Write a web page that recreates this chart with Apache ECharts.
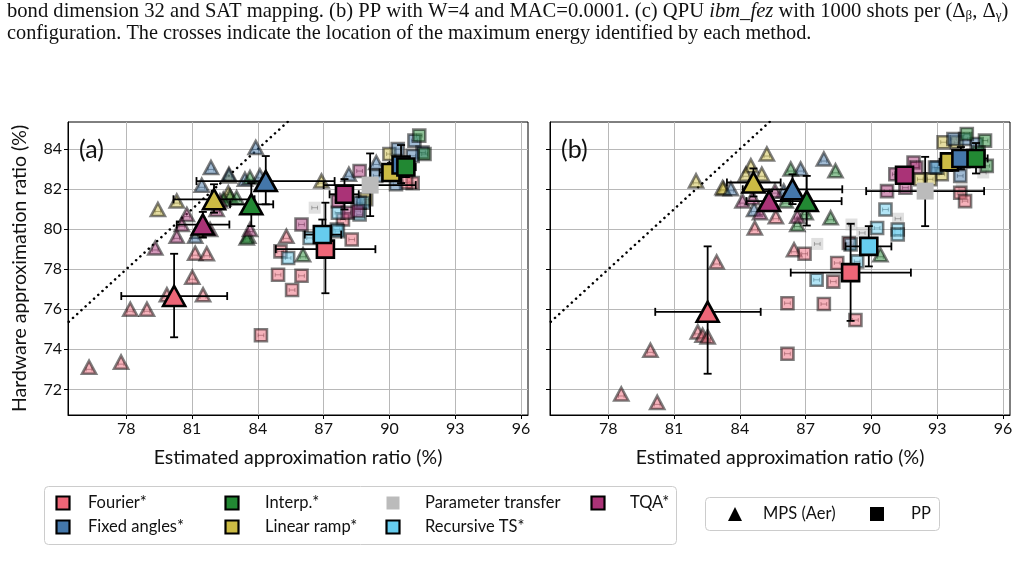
<!DOCTYPE html>
<html>
<head>
<meta charset="utf-8">
<script src="https://cdn.jsdelivr.net/npm/echarts@6/dist/echarts.min.js"></script>
<style>
  html, body { margin: 0; padding: 0; background: #fff; }
  #main { width: 1027px; height: 581px; }
</style>
</head>
<body>
<div id="main"></div>
<script>
// methods, in legend order
var methods = ['Fourier*', 'Fixed angles*', 'Interp.*', 'Linear ramp*', 'Parameter transfer', 'Recursive TS*', 'TQA*'];
var colors = ['#EE6677', '#4477AA', '#228833', '#CCBB44', '#BBBBBB', '#66CCEE', '#AA3377'];

var xTicks = [78, 81, 84, 87, 90, 93, 96];
var yTicks = [72, 74, 76, 78, 80, 82, 84];
var diagonal = [[70, 70], [86, 86]];
var smallErr = 0.13;   // half width of the tiny error bars inside the small markers

// small markers, panel (a) MPS (triangles), one list per method
var mpsA = [
  [[76.3,73.1],[77.76,73.36],[78.18,76.0],[78.94,76.0],[81.01,77.6],[81.5,76.72],[79.85,76.72],[81.14,78.8],[81.67,78.77],[85.3,79.64]],
  [[83.9,84.08],[81.86,83.08],[82.68,82.74],[83.41,82.49],[81.44,82.19],[81.14,79.64],[89.4,83.33],[88.15,82.74],[84.09,82.66]],
  [[82.73,81.65],[83.03,81.57],[82.42,81.49],[83.56,79.64],[83.64,82.58],[83.49,79.56],[86.06,78.72]],
  [[79.44,80.98],[80.3,81.4],[82.68,82.66],[86.9,82.4],[82.65,81.82],[81.27,79.9]],
  [],
  [],
  [[80.76,80.73],[80.53,80.23],[80.3,79.64],[79.32,79.06],[82.27,81.4],[81.82,79.98],[83.64,79.98],[82.12,80.98]]
];
// small markers, panel (a) PP (squares)
var ppA = [
  [[84.14,74.7],[84.92,77.72],[85.56,76.96],[85.99,77.67],[85.03,78.89],[88.28,79.48],[91.06,82.3],[90.76,82.33],[87.88,80.48]],
  [[91.14,84.42],[91.51,83.83],[91.06,83.66],[90.38,84.0],[89.4,82.66],[88.64,81.32],[90.3,82.24]],
  [[91.36,84.67],[91.6,83.75]],
  [[90.0,83.75],[88.94,81.49]],
  [[86.59,81.07]],
  [[85.38,78.56],[86.36,79.56],[87.6,79.98],[87.65,80.82],[88.64,80.73],[88.79,81.32],[87.65,79.9]],
  [[85.99,80.23],[88.64,82.9],[87.65,81.4],[88.1,80.82],[88.55,80.9]]
];
// small markers, panel (b) MPS
var mpsB = [
  [[78.59,71.77],[80.23,71.35],[79.92,73.95],[82.08,74.87],[82.3,74.7],[82.53,74.62],[82.94,78.36],[86.47,78.97],[84.68,80.06],[85.64,80.62]],
  [[87.83,83.5],[83.59,82.02],[86.77,83.0],[84.65,80.98],[86.0,81.9]],
  [[88.36,82.91],[86.32,83.0],[88.14,80.57],[86.62,80.23],[86.09,81.4],[90.41,78.72],[87.0,80.82]],
  [[85.23,83.75],[82.0,82.41],[83.26,82.02],[84.5,83.16],[84.27,82.74],[85.0,82.74],[83.21,82.07]],
  [],
  [],
  [[84.12,81.4],[84.92,80.82],[84.58,81.57],[86.62,80.65],[85.6,81.9]]
];
// small markers, panel (b) PP
var ppB = [
  [[86.17,73.78],[86.17,76.3],[87.83,76.26],[89.27,75.46],[88.26,77.38],[88.44,78.31],[88.97,79.31],[86.95,78.77],[94.05,81.82],[94.27,81.4]],
  [[93.74,84.5],[92.9,83.08],[94.05,82.66],[94.27,84.5],[94.8,84.25]],
  [[95.18,84.42],[95.26,83.16],[94.35,84.75],[94.88,83.83]],
  [[93.29,84.34],[93.21,82.74],[92.68,82.49],[93.9,84.34],[92.23,82.49]],
  [[87.53,79.26],[89.09,80.23],[91.21,80.52],[94.12,81.99],[95.1,82.83],[89.58,79.81]],
  [[90.64,80.98],[90.26,80.06],[91.2,79.98],[91.2,79.73],[87.5,77.47],[89.35,78.39],[89.05,79.23],[92.99,83.08]],
  [[90.71,81.9],[91.92,83.33],[91.55,82.07],[91.09,82.74],[92.05,83.08]]
];

// maxima with error bars: [x, y, xlo, xhi, ylo, yhi]
var bigMpsA = [
  [80.18,76.66,77.77,82.6,74.6,78.77],
  [84.36,82.4,81.2,87.5,81.24,83.65],
  [83.7,81.24,82.73,84.7,80.15,82.3],
  [82.0,81.49,80.15,83.85,80.82,82.24],
  null,
  null,
  [81.49,80.23,80.3,82.7,79.6,80.86]
];
var bigPpA = [
  [87.08,79.0,84.82,89.36,76.8,81.32],
  [90.53,83.2,90.0,91.1,82.3,84.2],
  [90.75,83.1,90.3,91.2,82.6,83.6],
  [90.07,82.83,89.55,90.6,82.4,83.3],
  [89.12,82.2,87.0,91.2,80.65,83.78],
  [86.94,79.73,86.14,87.8,78.98,80.48],
  [87.95,81.74,87.27,88.6,80.98,82.5]
];
var bigMpsB = [
  [82.53,75.87,80.14,84.95,72.78,79.14],
  [86.4,81.99,84.13,88.67,81.25,82.74],
  [87.05,81.4,85.45,88.64,80.18,82.66],
  [84.62,82.33,83.41,85.86,81.63,83.03],
  null,
  null,
  [85.33,81.4,84.3,86.3,80.9,81.9]
];
var bigPpB = [
  [89.05,77.83,86.32,91.8,75.42,80.27],
  [94.08,83.53,93.6,94.6,83.0,84.1],
  [94.77,83.53,94.3,95.3,82.78,84.3],
  [93.56,83.36,93.1,94.0,82.9,83.8],
  [92.45,81.9,89.76,95.14,80.15,83.61],
  [89.88,79.14,88.82,90.91,78.14,80.15],
  [91.51,82.69,91.1,91.9,82.3,83.1]
];

var drawOrder = [3, 4, 0, 5, 1, 2, 6];
var sansFont = 'Lato';

var myChart = echarts.init(document.getElementById('main'), null, {renderer: 'canvas'});

function xAxisCfg(gi) {
  return {
    gridIndex: gi, type: 'value', min: 75.34, max: 96.32,
    name: 'Estimated approximation ratio (%)', nameLocation: 'middle', nameGap: 33,
    nameTextStyle: {fontFamily: sansFont, fontSize: 19.5, color: '#111'},
    axisLine: {onZero: false, lineStyle: {color: '#000', width: 1}},
    axisTick: {show: true, customValues: xTicks, length: 4, lineStyle: {color: '#000'}},
    axisLabel: {customValues: xTicks, fontFamily: sansFont, fontSize: 16, color: '#111', margin: 6},
    splitLine: {show: true, lineStyle: {color: '#b8b8b8', width: 1}}
  };
}
function yAxisCfg(gi) {
  var cfg = {
    gridIndex: gi, type: 'value', min: 70.72, max: 85.35,
    axisLine: {onZero: false, lineStyle: {color: '#000', width: 1}},
    axisTick: {show: true, customValues: yTicks, length: 4, lineStyle: {color: '#000'}},
    axisLabel: {show: gi === 0, customValues: yTicks, fontFamily: sansFont, fontSize: 16, color: '#111', margin: 6},
    splitLine: {show: true, lineStyle: {color: '#b8b8b8', width: 1}}
  };
  if (gi === 0) {
    cfg.name = 'Hardware approximation ratio (%)';
    cfg.nameLocation = 'middle';
    cfg.nameGap = 38;
    cfg.nameTextStyle = {fontFamily: sansFont, fontSize: 19.5, color: '#111'};
  }
  return cfg;
}

function renderErr(params, api) {
  var x = api.value(0), y = api.value(1);
  var l = api.coord([api.value(2), y]), r = api.coord([api.value(3), y]);
  var b = api.coord([x, api.value(4)]), t = api.coord([x, api.value(5)]);
  var cap = 4;
  var st = {stroke: '#000', lineWidth: 1.8};
  return {
    type: 'group',
    children: [
      {type: 'line', shape: {x1: l[0], y1: l[1], x2: r[0], y2: r[1]}, style: st},
      {type: 'line', shape: {x1: l[0], y1: l[1] - cap, x2: l[0], y2: l[1] + cap}, style: st},
      {type: 'line', shape: {x1: r[0], y1: r[1] - cap, x2: r[0], y2: r[1] + cap}, style: st},
      {type: 'line', shape: {x1: b[0], y1: b[1], x2: t[0], y2: t[1]}, style: st},
      {type: 'line', shape: {x1: b[0] - cap, y1: b[1], x2: b[0] + cap, y2: b[1]}, style: st},
      {type: 'line', shape: {x1: t[0] - cap, y1: t[1], x2: t[0] + cap, y2: t[1]}, style: st}
    ]
  };
}

// tiny error bar inside the small markers
function renderTiny(params, api) {
  var x = api.value(0), y = api.value(1);
  var l = api.coord([x - smallErr, y]), r = api.coord([x + smallErr, y]);
  var st = {stroke: 'rgba(0,0,0,0.45)', lineWidth: 1};
  var dy = api.value(2) ? 2 : 0;
  return {
    type: 'group',
    children: [
      {type: 'line', shape: {x1: l[0], y1: l[1] + dy, x2: r[0], y2: r[1] + dy}, style: st},
      {type: 'line', shape: {x1: l[0], y1: l[1] + dy - 2, x2: l[0], y2: l[1] + dy + 2}, style: st},
      {type: 'line', shape: {x1: r[0], y1: r[1] + dy - 2, x2: r[0], y2: r[1] + dy + 2}, style: st}
    ]
  };
}

var series = [];
var panels = [
  {mps: mpsA, pp: ppA, bigMps: bigMpsA, bigPp: bigPpA},
  {mps: mpsB, pp: ppB, bigMps: bigMpsB, bigPp: bigPpB}
];

panels.forEach(function(p, gi) {
  // y = x reference
  series.push({
    type: 'line', xAxisIndex: gi, yAxisIndex: gi, data: diagonal, showSymbol: false, z: 1,
    lineStyle: {color: '#000', width: 2.5, type: [0.1, 5.6], cap: 'round'}, silent: true
  });
  // small markers
  drawOrder.forEach(function(m) {
    var isPT = (m === 4);
    [['triangle', p.mps[m], [14, 13], 1], ['rect', p.pp[m], 12, 0]].forEach(function(sh) {
      if (!sh[1].length) return;
      series.push({
        type: 'scatter', xAxisIndex: gi, yAxisIndex: gi, data: sh[1], symbol: sh[0], symbolSize: sh[2], z: 2,
        itemStyle: {color: colors[m], borderColor: isPT ? 'rgba(0,0,0,0)' : '#000', borderWidth: 2.6, opacity: isPT ? 0.45 : 0.5},
        silent: true
      });
      series.push({
        type: 'custom', xAxisIndex: gi, yAxisIndex: gi, z: 2, silent: true,
        data: sh[1].map(function(d) { return [d[0], d[1], sh[3]]; }),
        renderItem: renderTiny, encode: {x: 0, y: 1}
      });
    });
  });
  // error bars of the maxima
  var errData = [];
  p.bigMps.concat(p.bigPp).forEach(function(d) { if (d) errData.push(d); });
  series.push({
    type: 'custom', xAxisIndex: gi, yAxisIndex: gi, data: errData, renderItem: renderErr, z: 3, silent: true,
    encode: {x: [0, 2, 3], y: [1, 4, 5]}
  });
  // maxima
  drawOrder.forEach(function(m) {
    var isPT = (m === 4);
    [['triangle', p.bigMps[m], [22, 20]], ['rect', p.bigPp[m], 17]].forEach(function(sh) {
      if (!sh[1]) return;
      series.push({
        type: 'scatter', xAxisIndex: gi, yAxisIndex: gi, data: [sh[1].slice(0, 2)], symbol: sh[0], symbolSize: sh[2], z: 4,
        itemStyle: {color: colors[m], borderColor: isPT ? colors[m] : '#000', borderWidth: isPT ? 0 : 2.6, opacity: 1},
        silent: true
      });
    });
  });
});

// legends drawn as graphics
var graphics = [];
var colX = [63, 232, 393, 598], textX = [88, 265, 425, 630], rowY = [503, 527];
graphics.push({type: 'rect', shape: {x: 44.5, y: 486.5, width: 632, height: 58, r: 4}, style: {fill: '#fff', stroke: '#cccccc', lineWidth: 1}, z: 10});
methods.forEach(function(name, i) {
  var c = Math.floor(i / 2), r = i % 2;
  graphics.push({type: 'rect', shape: {x: colX[c] - 6.5, y: rowY[r] - 6.5, width: 13, height: 13},
    style: {fill: colors[i], stroke: i === 4 ? null : '#000', lineWidth: 2.2}, z: 11});
  graphics.push({type: 'text', x: textX[c], y: rowY[r], style: {text: name, fontFamily: sansFont, fontSize: 16.5, fill: '#111', verticalAlign: 'middle'}, z: 11});
});
graphics.push({type: 'rect', shape: {x: 705.5, y: 497.5, width: 234, height: 33, r: 4}, style: {fill: '#fff', stroke: '#cccccc', lineWidth: 1}, z: 10});
graphics.push({type: 'polygon', shape: {points: [[728, 521], [742, 521], [735, 507]]}, style: {fill: '#000'}, z: 11});
graphics.push({type: 'text', x: 763, y: 514, style: {text: 'MPS (Aer)', fontFamily: sansFont, fontSize: 16.5, fill: '#111', verticalAlign: 'middle'}, z: 11});
graphics.push({type: 'rect', shape: {x: 870, y: 507, width: 14, height: 14}, style: {fill: '#000'}, z: 11});
graphics.push({type: 'text', x: 911, y: 514, style: {text: 'PP', fontFamily: sansFont, fontSize: 16.5, fill: '#111', verticalAlign: 'middle'}, z: 11});

// panel labels
graphics.push({type: 'text', x: 79, y: 150, style: {text: '(a)', fontFamily: sansFont, fontSize: 25, fill: '#111', verticalAlign: 'middle'}, z: 11});
graphics.push({type: 'text', x: 561, y: 150, style: {text: '(b)', fontFamily: sansFont, fontSize: 25, fill: '#111', verticalAlign: 'middle'}, z: 11});

// caption lines
var serif = 'Liberation Serif';
graphics.push({type: 'text', x: 7, y: 12, style: {
  text: '{n|bond dimension 32 and SAT mapping. (b) PP with W=4 and MAC=0.0001. (c) QPU }{i|ibm_fez}{n| with 1000 shots per (Δ}{s|β}{n|, Δ}{s|γ}{n|)}',
  verticalAlign: 'middle',
  rich: {
    n: {fontFamily: serif, fontSize: 20.6, fill: '#111'},
    i: {fontFamily: serif, fontSize: 20.6, fontStyle: 'italic', fill: '#111'},
    s: {fontFamily: serif, fontSize: 13, fill: '#111', padding: [8, 0, 0, 0]}
  }}, z: 11});
graphics.push({type: 'text', x: 7, y: 34, style: {
  text: 'configuration. The crosses indicate the location of the maximum energy identified by each method.',
  fontFamily: serif, fontSize: 20.3, fill: '#111', verticalAlign: 'middle'}, z: 11});

var option = {
  animation: false,
  backgroundColor: '#fff',
  grid: [
    {left: 68, top: 122, width: 460, height: 293, show: true, borderColor: '#000', borderWidth: 1, backgroundColor: 'transparent'},
    {left: 550, top: 122, width: 460, height: 293, show: true, borderColor: '#000', borderWidth: 1, backgroundColor: 'transparent'}
  ],
  xAxis: [xAxisCfg(0), xAxisCfg(1)],
  yAxis: [yAxisCfg(0), yAxisCfg(1)],
  series: series,
  graphic: graphics
};

myChart.setOption(option);
</script>
</body>
</html>
